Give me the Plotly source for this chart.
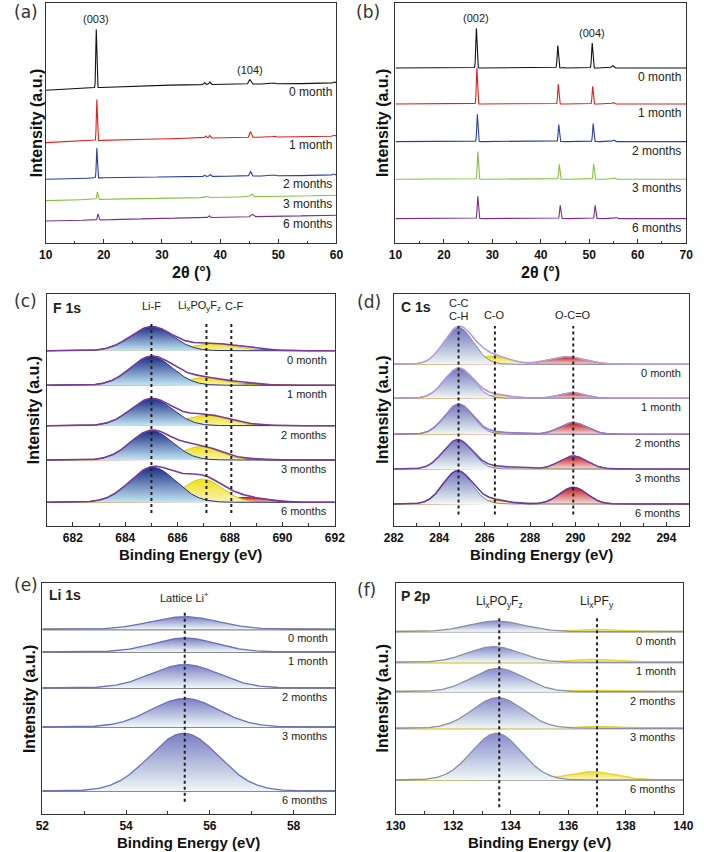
import numpy as np
import plotly.graph_objects as go

W, H = 704, 852
FONT = "Liberation Sans, Arial, sans-serif"

months = ["0 month", "1 month", "2 months", "3 months", "6 months"]

# ---------------- (a) XRD cathode ----------------
a_bg_x = [10, 20, 30, 40, 50, 60]
a_bg = [
    [153, 156, 158, 159, 159.5, 160],
    [100.7, 103, 104.5, 105.5, 106.3, 107],
    [64, 65.5, 66.3, 67, 67.5, 68],
    [42.7, 44, 45, 46, 47, 48],
    [22.3, 23.5, 25, 26, 27, 28],
]
a_pos = [
    [18.7, 37.3, 38.2, 45.1, 49.3, 59.6],
    [18.8, 37.5, 38.2, 45.2, 49.3, 59.5],
    [18.8, 37.3, 38.3, 45.2, 49.3, 59.5],
    [18.9, 37.8, 45.4],
    [19.0, 38.1, 45.5],
]
a_height = [
    [58.5, 2, 2.5, 4.4, 1, 1.5],
    [41, 2, 2.5, 5.8, 1, 1.5],
    [30, 1.5, 2, 4.5, 1, 1.5],
    [7.5, 1, 3],
    [6, 2, 2.5],
]
a_sigma = [
    [0.09, 0.12, 0.12, 0.18, 0.15, 0.2],
    [0.09, 0.12, 0.12, 0.15, 0.15, 0.2],
    [0.09, 0.12, 0.12, 0.15, 0.15, 0.2],
    [0.1, 0.15, 0.2],
    [0.1, 0.12, 0.2],
]
a_hkl = ["(003)", "(104)"]
a_hkl_pos = [18.7, 45.1]
a_hkl_top = [214, 163.7]

# ---------------- (b) XRD graphite ----------------
b_base = [175.3, 139.3, 101.7, 64, 24.7]
b_pos = [
    [26.7, 43.5, 44.6, 50.6, 54.8],
    [26.8, 43.6, 50.7, 54.9],
    [26.9, 43.7, 50.8, 55.0],
    [27.0, 43.8, 50.9, 55.1],
    [27.0, 44.0, 51.2, 55.5],
]
b_height = [
    [39.7, 22.4, 0.8, 25, 2.5],
    [36, 19.7, 17.7, 1.5],
    [27.3, 17, 18, 1.5],
    [27.7, 15, 15.3, 1.5],
    [22.3, 13.3, 13.3, 1.2],
]
b_sigma = [
    [0.13, 0.13, 0.15, 0.13, 0.2],
    [0.12, 0.12, 0.12, 0.2],
    [0.12, 0.12, 0.12, 0.2],
    [0.12, 0.12, 0.12, 0.2],
    [0.12, 0.12, 0.12, 0.2],
]
b_hkl = ["(002)", "(004)"]
b_hkl_pos = [26.7, 50.6]
b_hkl_top = [215, 200.3]

# ---------------- (c) F 1s ----------------
c_base = [175.3, 140.7, 100.3, 66, 23.7]
c_lif_pos = [685.0, 685.0, 685.0, 685.0, 685.05]
c_lif_h = [24, 28.7, 27, 29.3, 35]
c_lif_w = [0.8, 0.8, 0.8, 0.8, 0.87]
c_po_pos = [687.3, 686.9, 687.1, 686.85, 686.95]
c_po_h = [7, 7.5, 10.5, 13.3, 23.3]
c_po_w = [0.85, 0.85, 0.8, 0.75, 0.75]
c_cf_pos = [688.7, 688.4, 688.6, 688.5, 688.5]
c_cf_h = [1.5, 1.8, 1.2, 1.2, 5]
c_cf_w = [0.7, 0.6, 0.7, 0.7, 0.8]
c_ref = [685.0, 687.1, 688.05]
c_ref_labels = ["Li-F", "Li<sub>x</sub>PO<sub>y</sub>F<sub>z</sub>", "C-F"]
c_ref_label_x = [685.0, 686.85, 688.18]

# ---------------- (d) C 1s ----------------
d_base = [161.7, 127.7, 91.7, 57, 22]
d_cc_pos = [284.85, 284.85, 284.85, 284.8, 284.8]
d_cc_h = [36.7, 30, 30, 29, 33]
d_cc_w = [0.65, 0.63, 0.62, 0.63, 0.63]
d_co_pos = [286.3, 286.4, 286.5, 286.5, 286.3]
d_co_h = [8.3, 3.5, 2, 2.5, 4]
d_co_w = [0.75, 0.7, 0.8, 0.9, 0.7]
d_oco_pos = [289.6, 289.85, 289.9, 289.9, 289.9]
d_oco_h = [7.7, 5.7, 11.7, 13, 16.7]
d_oco_w = [0.8, 0.55, 0.6, 0.6, 0.6]
d_ref = [284.85, 286.45, 289.9]

# ---------------- (e) Li 1s ----------------
e_base = [184.7, 162, 126, 87, 23]
e_pos = [55.4, 55.4, 55.4, 55.4, 55.38]
e_h = [12.7, 14, 23.5, 28.6, 57.7]
e_w = [0.8, 0.75, 0.8, 0.8, 0.82]
e_ref = [55.4]

# ---------------- (f) P 2p ----------------
f_base = [182.3, 151.7, 122.3, 85.7, 34]
f_po_pos = [133.5, 133.4, 133.55, 133.55, 133.5]
f_po_h = [10.7, 15.7, 23.3, 30.7, 46.7]
f_po_w = [0.95, 0.9, 0.9, 0.88, 0.86]
f_pf_pos = [137.0, 136.9, 136.8, 137.1, 136.8]
f_pf_h = [2.4, 3, 1.5, 2, 8.3]
f_pf_w = [0.8, 0.8, 0.8, 0.8, 0.85]
f_ref = [133.6, 137.0]
f_ref_labels = ["Li<sub>x</sub>PO<sub>y</sub>F<sub>z</sub>", "Li<sub>x</sub>PF<sub>y</sub>"]


def gauss(x, c, h, w):
    return h * np.exp(-0.5 * ((x - c) / w) ** 2)


# ---------------- layout geometry (pixels) ----------------
panels = {
    "a": dict(ax="x", ay="y", px=(36.7, 336), py=(3.3, 243.3), xr=[10, 60], yr=[0, 240], dt=10, mn=5),
    "b": dict(ax="x2", ay="y2", px=(396.7, 696), py=(3.3, 243.3), xr=[10, 70], yr=[0, 240], dt=10, mn=5),
    "c": dict(ax="x3", ay="y3", px=(37.7, 334.3), py=(294, 526), xr=[681, 692], yr=[0, 232], dt=2, mn=1),
    "d": dict(ax="x4", ay="y4", px=(395, 699), py=(294, 526), xr=[282, 295], yr=[0, 232], dt=2, mn=1),
    "e": dict(ax="x5", ay="y5", px=(33.3, 335), py=(583.3, 814), xr=[52, 59], yr=[0, 230.7], dt=2, mn=1),
    "f": dict(ax="x6", ay="y6", px=(397, 693), py=(583.3, 814), xr=[130, 140], yr=[0, 230.7], dt=2, mn=1),
}

fig = go.Figure()
annotations = []
shapes = []


def ann(text, x, y, xref="paper", yref="paper", size=11, color="#222", xanchor="center",
        yanchor="middle", textangle=0, yshift=0, bold=False, family=FONT):
    if bold:
        text = "<b>" + text + "</b>"
    annotations.append(dict(text=text, x=x, y=y, xref=xref, yref=yref, showarrow=False,
                            font=dict(family=family, size=size, color=color),
                            xanchor=xanchor, yanchor=yanchor, textangle=textangle, yshift=yshift))


def month_labels(p, bases, xfrac, size=11):
    P = panels[p]
    for m, b in zip(months, bases):
        ann(m, xfrac, b, xref=P["ax"] + " domain", yref=P["ay"], size=size,
            xanchor="right", yshift=-9)


xrd_colors = ["#111111", "#e0201b", "#2b3ea8", "#86c440", "#7a2f8f"]

# (a)
xa = np.arange(10, 60.0001, 0.02)
for i in range(5):
    y = np.interp(xa, a_bg_x, a_bg[i])
    for c, h, w in zip(a_pos[i], a_height[i], a_sigma[i]):
        y = y + gauss(xa, c, h, w)
    fig.add_trace(go.Scatter(x=xa, y=y, mode="lines", line=dict(color=xrd_colors[i], width=1.1),
                             xaxis="x", yaxis="y", showlegend=False, hoverinfo="skip"))
month_labels("a", [b[-1] for b in a_bg], 0.99, size=12)
for t, xp, top in zip(a_hkl, a_hkl_pos, a_hkl_top):
    ann(t, xp, top, xref="x", yref="y", size=11, yshift=10)

# (b)
xb = np.arange(10, 70.0001, 0.02)
for i in range(5):
    y = np.full_like(xb, b_base[i])
    for c, h, w in zip(b_pos[i], b_height[i], b_sigma[i]):
        y = y + gauss(xb, c, h, w)
    fig.add_trace(go.Scatter(x=xb, y=y, mode="lines", line=dict(color=xrd_colors[i], width=1.1),
                             xaxis="x2", yaxis="y2", showlegend=False, hoverinfo="skip"))
month_labels("b", b_base, 0.99, size=12)
for t, xp, top in zip(b_hkl, b_hkl_pos, b_hkl_top):
    ann(t, xp, top, xref="x2", yref="y2", size=11, yshift=10)


def comp_trace(x, base, g, light, dark, line, ax, ay, lw=1):
    return go.Scatter(x=x, y=base + g, mode="lines", fill="toself",
                      fillgradient=dict(type="vertical", colorscale=[[0, light], [1, dark]]),
                      line=dict(color=line, width=lw), xaxis=ax, yaxis=ay,
                      showlegend=False, hoverinfo="skip")


# (c) F 1s
xc = np.arange(681, 692.0001, 0.01)
for i in range(5):
    b = c_base[i]
    gl = gauss(xc, c_lif_pos[i], c_lif_h[i], c_lif_w[i])
    gp = gauss(xc, c_po_pos[i], c_po_h[i], c_po_w[i])
    gc = gauss(xc, c_cf_pos[i], c_cf_h[i], c_cf_w[i])
    fig.add_trace(comp_trace(xc, b, gc, "#f3c4c4", "#cc1a1a", "#c81818", "x3", "y3"))
    fig.add_trace(comp_trace(xc, b, gp, "#f8f3b4", "#efe01c", "#dccb00", "x3", "y3"))
    fig.add_trace(comp_trace(xc, b, gl, "#c2e6f3", "#1c2f86", "#22348e", "x3", "y3"))
    fig.add_trace(go.Scatter(x=xc, y=b + gl + gp + gc, mode="lines",
                             line=dict(color="#7a3a9a", width=1.6), xaxis="x3", yaxis="y3",
                             showlegend=False, hoverinfo="skip"))
month_labels("c", c_base, 0.98)

# (d) C 1s
xd = np.arange(282, 295.0001, 0.01)
d_env_colors = ["#b89fd6", "#b296d2", "#9a78c2", "#7445a8", "#6a3a9e"]
for i in range(5):
    b = d_base[i]
    g1 = gauss(xd, d_cc_pos[i], d_cc_h[i], d_cc_w[i])
    g2 = gauss(xd, d_co_pos[i], d_co_h[i], d_co_w[i])
    g3 = gauss(xd, d_oco_pos[i], d_oco_h[i], d_oco_w[i])
    fig.add_trace(comp_trace(xd, b, g3, "#f7dcdc", "#c41c1c", "#c01818", "x4", "y4"))
    fig.add_trace(comp_trace(xd, b, g2, "#fbf7cc", "#eedd22", "#e0cc10", "x4", "y4"))
    fig.add_trace(comp_trace(xd, b, g1, "#eef8f4", "#7177bd", "#7c82c6", "x4", "y4"))
    fig.add_trace(go.Scatter(x=xd, y=b + g1 + g2 + g3, mode="lines",
                             line=dict(color=d_env_colors[i], width=1.6), xaxis="x4", yaxis="y4",
                             showlegend=False, hoverinfo="skip"))
month_labels("d", d_base, 0.979)

# (e) Li 1s
xe = np.arange(52, 59.0001, 0.01)
for i in range(5):
    b = e_base[i]
    g = gauss(xe, e_pos[i], e_h[i], e_w[i])
    fig.add_trace(go.Scatter(x=xe, y=np.full_like(xe, b), mode="lines",
                             line=dict(color="#8a8a8a", width=2.2), xaxis="x5", yaxis="y5",
                             showlegend=False, hoverinfo="skip"))
    fig.add_trace(comp_trace(xe, b, g, "#eef8f8", "#7a7ec2", "#6d72b6", "x5", "y5", lw=1.3))
month_labels("e", e_base, 0.983)

# (f) P 2p
xf = np.arange(130, 140.0001, 0.01)
for i in range(5):
    b = f_base[i]
    g1 = gauss(xf, f_po_pos[i], f_po_h[i], f_po_w[i])
    g2 = gauss(xf, f_pf_pos[i], f_pf_h[i], f_pf_w[i])
    fig.add_trace(go.Scatter(x=xf, y=np.full_like(xf, b), mode="lines",
                             line=dict(color="#b0b0b0", width=2.2), xaxis="x6", yaxis="y6",
                             showlegend=False, hoverinfo="skip"))
    fig.add_trace(comp_trace(xf, b, g2, "#fbf6cc", "#eedd30", "#e6d430", "x6", "y6", lw=1.3))
    fig.add_trace(comp_trace(xf, b, g1, "#eef8f6", "#868bcc", "#8a8fa6", "x6", "y6", lw=1.3))
month_labels("f", f_base, 0.983)


# dotted reference lines
def ref_lines(p, xs, y0, y1):
    P = panels[p]
    for xv in xs:
        shapes.append(dict(type="line", xref=P["ax"], yref=P["ay"] + " domain", x0=xv, x1=xv,
                           y0=y0, y1=y1, line=dict(color="#222", width=2, dash="dot"), layer="above"))


ref_lines("c", c_ref, 0.056, 0.881)
ref_lines("d", d_ref, 0.05, 0.862)
ref_lines("e", e_ref, 0.053, 0.884)
ref_lines("f", f_ref, 0.029, 0.855)

# in-panel labels
ann("F 1s", 42 / W, 1 - 308 / H, size=14, bold=True, xanchor="left")
for t, xv in zip(c_ref_labels, c_ref_label_x):
    ann(t, xv, 0.948, xref="x3", yref="y3 domain", size=11)
ann("C 1s", 400 / W, 1 - 306.7 / H, size=14, bold=True, xanchor="left")
ann("C-C", d_ref[0], 0.9625, xref="x4", yref="y4 domain", size=11)
ann("C-H", d_ref[0], 0.905, xref="x4", yref="y4 domain", size=11)
ann("C-O", d_ref[1], 0.909, xref="x4", yref="y4 domain", size=11)
ann("O-C=O", d_ref[2], 0.909, xref="x4", yref="y4 domain", size=11)
ann("Li 1s", 38 / W, 1 - 595 / H, size=14, bold=True, xanchor="left")
ann("Lattice Li<sup>+</sup>", e_ref[0], 0.942, xref="x5", yref="y5 domain", size=11)
ann("P 2p", 400 / W, 1 - 596 / H, size=14, bold=True, xanchor="left")
for t, xv in zip(f_ref_labels, f_ref):
    ann(t, xv, 0.92, xref="x6", yref="y6 domain", size=12)

# panel letters
for t, x, y in [("(a)", 2, 12.5), ("(b)", 354, 12.5), ("(c)", 2, 301), ("(d)", 355, 302),
                ("(e)", 2, 585), ("(f)", 355, 590)]:
    ann(t, x / W, 1 - y / H, size=17, color="#333", xanchor="left", family="DejaVu Sans, sans-serif")

# axis titles
xtitles = {"a": "2θ (°)", "b": "2θ (°)", "c": "Binding Energy (eV)", "d": "Binding Energy (eV)",
           "e": "Binding Energy (eV)", "f": "Binding Energy (eV)"}
xtitle_y = {"a": 272.7, "b": 272.7, "c": 554.3, "d": 554.3, "e": 842.3, "f": 842}
ytitle_x = {"a": 26.7, "b": 383.7, "c": 25, "d": 383.7, "e": 20, "f": 383.7}
for p, P in panels.items():
    cx = (P["px"][0] + P["px"][1]) / 2
    ann(xtitles[p], cx / W, 1 - xtitle_y[p] / H, size=16 if p in "ab" else 15, bold=True, color="#111")
    cy = (P["py"][0] + P["py"][1]) / 2
    ann("Intensity (a.u.)", ytitle_x[p] / W, 1 - cy / H, size=16, bold=True, color="#111", textangle=-90)

layout = dict(width=W, height=H, margin=dict(l=0, r=0, t=0, b=0), paper_bgcolor="white",
              plot_bgcolor="white", showlegend=False, annotations=annotations, shapes=shapes)
for p, P in panels.items():
    xk = "xaxis" + P["ax"][1:]
    yk = "yaxis" + P["ay"][1:]
    layout[xk] = dict(domain=[P["px"][0] / W, P["px"][1] / W], range=P["xr"], anchor=P["ay"],
                      showline=True, mirror=True, linecolor="#333", linewidth=1.3,
                      ticks="inside", ticklen=4, tickwidth=1.2, tickcolor="#333",
                      tick0=P["xr"][0], dtick=P["dt"],
                      minor=dict(dtick=P["mn"], ticks="inside", ticklen=2.5, tickwidth=1, tickcolor="#333"),
                      tickfont=dict(family=FONT, size=12, color="#111", weight="bold"),
                      showgrid=False, zeroline=False, fixedrange=True)
    layout[yk] = dict(domain=[1 - P["py"][1] / H, 1 - P["py"][0] / H], range=P["yr"], anchor=P["ax"],
                      showline=True, mirror=True, linecolor="#333", linewidth=1.3,
                      ticks="", showticklabels=False, showgrid=False, zeroline=False, fixedrange=True)
layout["xaxis3"]["tick0"] = 682
layout["xaxis4"]["tick0"] = 282
fig.update_layout(**layout)
fig.write_html("out.html", config={"displayModeBar": False},
               post_script="document.body.style.margin='0';document.body.style.padding='0';"
                           "document.body.style.overflow='hidden';")
